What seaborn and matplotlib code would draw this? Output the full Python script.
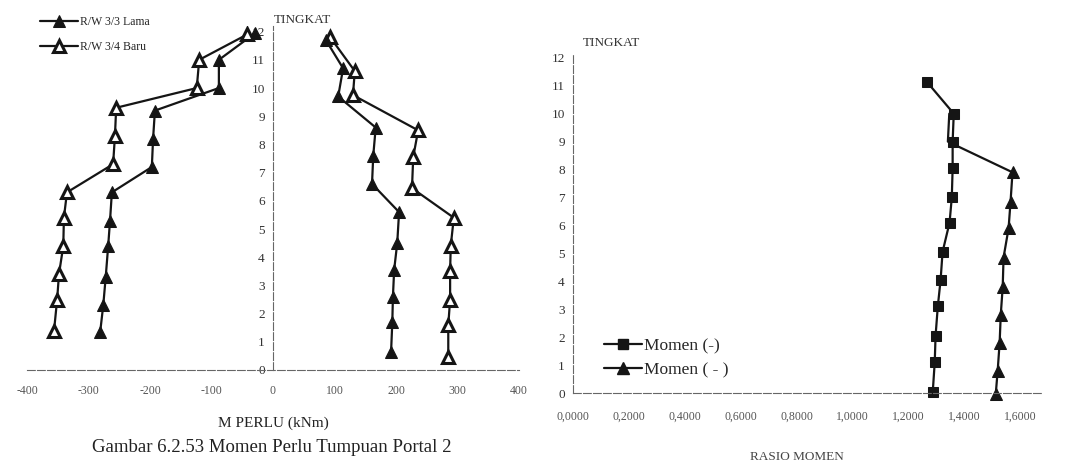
import matplotlib
matplotlib.use("Agg")
import matplotlib.pyplot as plt
from matplotlib.lines import Line2D
import seaborn as sns

# left chart: M perlu (kNm) per tingkat
tingkat_neg_baru = [11.9, 11.0, 10.0, 9.3, 8.3, 7.3, 6.3, 5.4, 4.4, 3.4, 2.5, 1.4]
momen_neg_baru = [-42, -120, -124, -255, -257, -260, -335, -340, -341, -348, -351, -356]
tingkat_neg_lama = [11.95, 11.0, 10.0, 9.2, 8.2, 7.2, 6.3, 5.3, 4.4, 3.3, 2.3, 1.35]
momen_neg_lama = [-29, -88, -88, -192, -195, -197, -262, -265, -268, -272, -276, -281]
tingkat_pos_lama = [11.7, 10.7, 9.7, 8.6, 7.6, 6.6, 5.6, 4.5, 3.55, 2.6, 1.7, 0.65]
momen_pos_lama = [86, 114, 106, 167, 163, 161, 205, 202, 197, 195, 194, 192]
tingkat_pos_baru = [11.8, 10.6, 9.75, 8.5, 7.55, 6.45, 5.4, 4.4, 3.5, 2.5, 1.6, 0.45]
momen_pos_baru = [93, 133, 130, 236, 228, 226, 294, 289, 288, 288, 285, 285]

# right chart: rasio momen per tingkat
tingkat_kotak = [11.15, 10.0, 9.0, 8.05, 7.0, 6.1, 5.05, 4.05, 3.1, 2.05, 1.1, 0.05]
rasio_kotak = [1.264, 1.361, 1.357, 1.357, 1.354, 1.346, 1.321, 1.314, 1.304, 1.296, 1.293, 1.286]
tingkat_segitiga = [10.0, 9.0, 7.9, 6.85, 5.9, 4.85, 3.8, 2.8, 1.8, 0.8, -0.05]
rasio_segitiga = [1.345, 1.34, 1.571, 1.564, 1.557, 1.539, 1.536, 1.529, 1.525, 1.518, 1.511]

x_ticks_left = [-400, -300, -200, -100, 0, 100, 200, 300, 400]
x_ticks_right = [0.0, 0.2, 0.4, 0.6, 0.8, 1.0, 1.2, 1.4, 1.6]
x_labels_right = ["0,0000", "0,2000", "0,4000", "0,6000", "0,8000",
                  "1,0000", "1,2000", "1,4000", "1,6000"]
y_ticks = list(range(0, 13))

sns.set_style("white")
plt.rcParams['font.family'] = ['Liberation Serif', 'DejaVu Serif']

W, H = 1076, 474
fig = plt.figure(figsize=(W / 100, H / 100), dpi=100)
ink = "#151515"
axis_col = "#666666"


def px_ax(left, right, bottom, top):
    return fig.add_axes([left / W, 1 - bottom / H, (right - left) / W, (bottom - top) / H])


def style_axis(ax):
    ax.spines['top'].set_visible(False)
    ax.spines['right'].set_visible(False)
    for s in ['left', 'bottom']:
        ax.spines[s].set_color(axis_col)
        ax.spines[s].set_linewidth(0.8)
        ax.spines[s].set_linestyle((0, (7, 2)))
    ax.set_yticks(y_ticks)
    ax.tick_params(axis='y', direction='out', length=3, width=0.7, color=axis_col,
                   pad=3, labelsize=9.5, labelcolor="#333333")
    ax.tick_params(axis='x', direction='inout', length=4, width=0.6, color=axis_col,
                   labelcolor="#555555")
    ax.set_xlabel("")
    ax.set_ylabel("")
    ax.grid(False)


# ---- left chart
ax1 = px_ax(27, 519, 370, 26)
line_kw = dict(sort=False, estimator=None, color=ink, linewidth=1.6, ax=ax1)
sns.lineplot(x=momen_neg_lama, y=tingkat_neg_lama, marker='^', markersize=9,
             markerfacecolor=ink, markeredgecolor=ink, label="R/W 3/3 Lama", **line_kw)
sns.lineplot(x=momen_neg_baru, y=tingkat_neg_baru, marker='^', markersize=8,
             markerfacecolor='white', markeredgecolor=ink, markeredgewidth=2.2,
             label="R/W 3/4 Baru", **line_kw)
sns.lineplot(x=momen_pos_baru, y=tingkat_pos_baru, marker='^', markersize=8,
             markerfacecolor='white', markeredgecolor=ink, markeredgewidth=2.2, **line_kw)
sns.lineplot(x=momen_pos_lama, y=tingkat_pos_lama, marker='^', markersize=9,
             markerfacecolor=ink, markeredgecolor=ink, **line_kw)
ax1.set_xlim(-400, 400)
ax1.set_ylim(0, 12.2)
style_axis(ax1)
ax1.spines['left'].set_position(('data', 0))
ax1.set_xticks(x_ticks_left)
ax1.set_xticklabels([str(v) for v in x_ticks_left])
ax1.tick_params(axis='x', labelsize=8.5, pad=9)
ax1.legend(loc='upper left', bbox_to_anchor=(40 / W, 1 - 16 / H), bbox_transform=fig.transFigure,
           frameon=False, fontsize=8.5, handlelength=3.2, handletextpad=0.2,
           labelspacing=1.1, borderpad=0, borderaxespad=0)

fig.text(302 / W, 1 - 20 / H, "TINGKAT", ha='center', va='center', fontsize=9.5, color="#333333")
fig.text(273 / W, 1 - 423 / H, "M PERLU (kNm)", ha='center', va='center', fontsize=11, color="#222222")
fig.text(272 / W, 1 - 448 / H, "Gambar 6.2.53 Momen Perlu Tumpuan Portal 2",
         ha='center', va='center', fontsize=13.5, color="#222222")

# ---- right chart
ax2 = px_ax(573, 1043, 393, 55)
line_kw2 = dict(sort=False, estimator=None, color=ink, linewidth=1.6, ax=ax2, legend=False)
# the first two triangles sit under the squares
sns.lineplot(x=rasio_segitiga, y=tingkat_segitiga, marker='^', markersize=9,
             markevery=list(range(2, len(rasio_segitiga))),
             markerfacecolor=ink, markeredgecolor=ink, **line_kw2)
sns.lineplot(x=rasio_kotak, y=tingkat_kotak, marker='s', markersize=7,
             markerfacecolor=ink, markeredgecolor=ink, **line_kw2)
for ln in ax2.lines:
    ln.set_clip_on(False)
ax2.set_xlim(0, 1.68)
ax2.set_ylim(0, 12.1)
style_axis(ax2)
ax2.set_xticks(x_ticks_right)
ax2.set_xticklabels(x_labels_right)
ax2.tick_params(axis='x', labelsize=8.5, pad=11)
handles = [Line2D([], [], color=ink, lw=1.6, marker='s', markersize=7),
           Line2D([], [], color=ink, lw=1.6, marker='^', markersize=9)]
ax2.legend(handles, ["Momen (-)", "Momen ( - )"], loc='upper left',
           bbox_to_anchor=(604 / W, 1 - 338 / H), bbox_transform=fig.transFigure,
           frameon=False, fontsize=12.5, handlelength=2.2, handletextpad=0.1,
           labelspacing=0.45, borderpad=0, borderaxespad=0)

fig.text(611 / W, 1 - 43 / H, "TINGKAT", ha='center', va='center', fontsize=9.5, color="#333333")
fig.text(797 / W, 1 - 457 / H, "RASIO MOMEN", ha='center', va='center', fontsize=9.5, color="#444444")

fig.savefig("out.png", dpi=100)
